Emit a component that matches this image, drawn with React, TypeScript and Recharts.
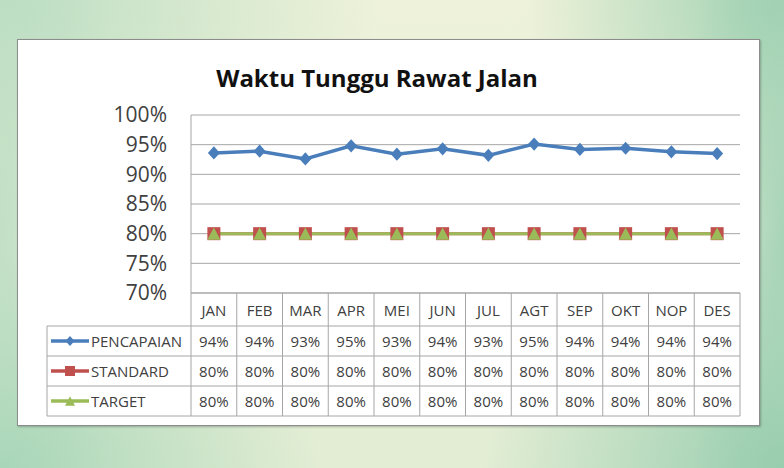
import React from 'react';
import { LineChart, Line, XAxis, YAxis, CartesianGrid } from 'recharts';

const MONTHS = ['JAN', 'FEB', 'MAR', 'APR', 'MEI', 'JUN', 'JUL', 'AGT', 'SEP', 'OKT', 'NOP', 'DES'];
const PENCAPAIAN = [93.6, 93.9, 92.6, 94.8, 93.4, 94.3, 93.2, 95.1, 94.2, 94.4, 93.8, 93.5];
const STANDARD = [80, 80, 80, 80, 80, 80, 80, 80, 80, 80, 80, 80];
const TARGET = [80, 80, 80, 80, 80, 80, 80, 80, 80, 80, 80, 80];
const Y_TICKS = [70, 75, 80, 85, 90, 95, 100];
const TITLE = 'Waktu Tunggu Rawat Jalan';

type Shape = 'diamond' | 'square' | 'triangle';
const SERIES: { name: string; key: string; color: string; shape: Shape; values: number[]; width: number }[] = [
  { name: 'PENCAPAIAN', key: 'p', color: '#4a7ebb', shape: 'diamond', values: PENCAPAIAN, width: 3.5 },
  { name: 'STANDARD', key: 's', color: '#c0504d', shape: 'square', values: STANDARD, width: 3 },
  { name: 'TARGET', key: 't', color: '#9bbb59', shape: 'triangle', values: TARGET, width: 3 },
];

const data = MONTHS.map((m, i) => ({ m, p: PENCAPAIAN[i], s: STANDARD[i], t: TARGET[i] }));

const FONT = '"Open Sans", "DejaVu Sans", sans-serif';
const TEXT = '#404040';
const GRID = '#a6a6a6';
const W = 784;
const H = 468;
const PLOT_L = 191;
const PLOT_T = 115;
const PLOT_R = 740;
const PLOT_B = 293;
const Y_AXIS_W = 60;
const X_AXIS_H = 132;
const COL = (PLOT_R - PLOT_L) / MONTHS.length;
const HEAD_H = 33;
const ROW_H = 30;
const LEG_L = 47;

function Marker({ shape, cx, cy, color, s }: { shape: Shape; cx: number; cy: number; color: string; s: number }) {
  if (shape === 'diamond') {
    return (
      <polygon
        points={`${cx},${cy - s * 1.1} ${cx + s},${cy} ${cx},${cy + s * 1.1} ${cx - s},${cy}`}
        fill={color}
      />
    );
  }
  if (shape === 'square') {
    return <rect x={cx - s} y={cy - s} width={s * 2} height={s * 2} fill={color} />;
  }
  return (
    <polygon
      points={`${cx},${cy - s * 0.95} ${cx + s},${cy + s * 0.95} ${cx - s},${cy + s * 0.95}`}
      fill={color}
    />
  );
}

function TableTick(props: any) {
  const { x, y, payload } = props;
  const i = payload.index;
  const l = x - COL / 2;
  const r = x + COL / 2;
  const bottom = y + HEAD_H + ROW_H * SERIES.length;
  return (
    <g>
      <line x1={r} y1={y} x2={r} y2={bottom} stroke={GRID} strokeWidth={1} />
      {i === 0 && <line x1={l} y1={y} x2={l} y2={bottom} stroke={GRID} strokeWidth={1} />}
      <text x={x} y={y + 23} textAnchor="middle" fontSize={15} fontFamily={FONT} fill={TEXT}>
        {payload.value}
      </text>
      {SERIES.map((s, k) => {
        const top = y + HEAD_H + ROW_H * k;
        return (
          <g key={s.key}>
            <line x1={l} y1={top} x2={r} y2={top} stroke={GRID} strokeWidth={1} />
            <text x={x} y={top + 21} textAnchor="middle" fontSize={15} fontFamily={FONT} fill={TEXT}>
              {Math.round(s.values[i])}%
            </text>
            {i === 0 && (
              <g>
                <line x1={LEG_L} y1={top} x2={l} y2={top} stroke={GRID} strokeWidth={1} />
                <line x1={51} y1={top + 15} x2={89} y2={top + 15} stroke={s.color} strokeWidth={3.5} />
                <Marker shape={s.shape} cx={70} cy={top + 15} color={s.color} s={s.shape === 'diamond' ? 4.5 : 5} />
                <text x={91} y={top + 21} textAnchor="start" fontSize={15} fontFamily={FONT} fill={TEXT}>
                  {s.name}
                </text>
              </g>
            )}
          </g>
        );
      })}
      <line x1={l} y1={bottom} x2={r} y2={bottom} stroke={GRID} strokeWidth={1} />
      {i === 0 && (
        <g>
          <line x1={LEG_L} y1={bottom} x2={l} y2={bottom} stroke={GRID} strokeWidth={1} />
          <line x1={LEG_L} y1={y + HEAD_H} x2={LEG_L} y2={bottom} stroke={GRID} strokeWidth={1} />
        </g>
      )}
    </g>
  );
}

const makeDot = (shape: Shape, color: string, s: number) => (p: any) => (
  <Marker key={`${shape}-${p.index}`} shape={shape} cx={p.cx} cy={p.cy} color={color} s={s} />
);

export default function App() {
  return (
    <div
      style={{
        position: 'absolute',
        left: 0,
        top: 0,
        width: W,
        height: H,
        overflow: 'hidden',
        background: [
          'radial-gradient(ellipse 320px 220px at 0% 100%, #a9d6b8 0%, rgba(169,214,184,0) 100%)',
          'radial-gradient(ellipse 300px 240px at 100% 100%, #98cdae 0%, rgba(152,205,174,0) 100%)',
          'radial-gradient(ellipse 260px 220px at 100% 0%, #a0d1b2 0%, rgba(160,209,178,0) 100%)',
          'radial-gradient(ellipse 380px 240px at 0% 0%, #bcdec3 0%, rgba(188,222,195,0) 100%)',
          'radial-gradient(ellipse 120px 468px at 0% 50%, #c2e0c6 0%, rgba(194,224,198,0) 100%)',
          'radial-gradient(ellipse 100px 468px at 100% 50%, #a8d4b8 0%, rgba(168,212,184,0) 100%)',
          'linear-gradient(180deg, #eef2da 0%, #e2edd4 100%)',
        ].join(','),
      }}
    >
      <div
        style={{
          position: 'absolute',
          left: 17,
          top: 39,
          width: 741,
          height: 385,
          background: '#ffffff',
          border: '1.5px solid #8c8c8c',
          boxShadow: '1px 1px 2px rgba(0,0,0,0.25)',
        }}
      />
      <svg width={W} height={H} style={{ position: 'absolute', left: 0, top: 0 }}>
        <text x={377} y={87} textAnchor="middle" fontSize={24} fontWeight={700} fontFamily={FONT} fill="#111111">
          {TITLE}
        </text>
      </svg>
      <div style={{ position: 'absolute', left: 0, top: 0 }}>
        <LineChart
          width={W}
          height={H}
          data={data}
          margin={{ top: PLOT_T, right: W - PLOT_R, left: PLOT_L - Y_AXIS_W, bottom: H - PLOT_B - X_AXIS_H }}
        >
          <CartesianGrid vertical={false} stroke={GRID} strokeWidth={1} />
          <XAxis
            dataKey="m"
            height={X_AXIS_H}
            interval={0}
            tickLine={false}
            tickSize={0}
            tickMargin={0}
            axisLine={{ stroke: GRID, strokeWidth: 1 }}
            padding={{ left: COL / 2, right: COL / 2 }}
            tick={(p: any) => <TableTick {...p} />}
          />
          <YAxis
            width={Y_AXIS_W}
            domain={[70, 100]}
            ticks={Y_TICKS}
            interval={0}
            tickLine={false}
            tickSize={0}
            tickMargin={24}
            axisLine={{ stroke: GRID, strokeWidth: 1 }}
            tickFormatter={(v: number) => `${v}%`}
            tick={{ fontSize: 21, fontFamily: FONT, fill: TEXT }}
          />
          <Line
            dataKey="s"
            stroke="#c0504d"
            strokeWidth={3}
            isAnimationActive={false}
            dot={makeDot('square', '#c0504d', 6.5)}
            activeDot={false}
          />
          <Line
            dataKey="t"
            stroke="#9bbb59"
            strokeWidth={3}
            isAnimationActive={false}
            dot={makeDot('triangle', '#9bbb59', 6.5)}
            activeDot={false}
          />
          <Line
            dataKey="p"
            stroke="#4a7ebb"
            strokeWidth={3.5}
            isAnimationActive={false}
            dot={makeDot('diamond', '#4a7ebb', 6)}
            activeDot={false}
          />
        </LineChart>
      </div>
    </div>
  );
}
